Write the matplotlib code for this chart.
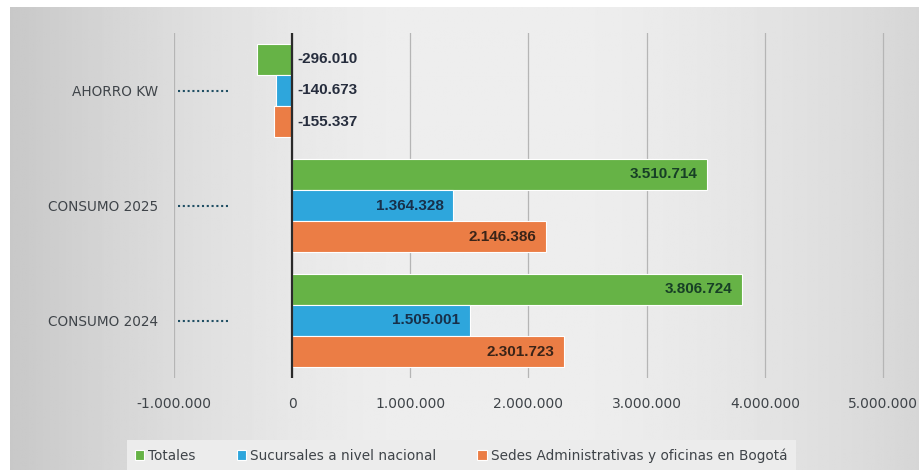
import numpy as np
import matplotlib
matplotlib.use("Agg")
import matplotlib.pyplot as plt
import matplotlib.transforms as mtransforms
from matplotlib.ticker import FuncFormatter

# Datos del grafico
categorias = ['AHORRO KW', 'CONSUMO 2025', 'CONSUMO 2024']
series = ['Totales', 'Sucursales a nivel nacional', 'Sedes Administrativas y oficinas en Bogotá']
totales = [-296010, 3510714, 3806724]
sucursales = [-140673, 1364328, 1505001]
sedes = [-155337, 2146386, 2301723]
x_ticks = [-1000000, 0, 1000000, 2000000, 3000000, 4000000, 5000000]

colores = ['#66b346', '#2ea6dc', '#eb7d45']
colores_txt = ['#173f26', '#17304a', '#3a2418']

plt.rcParams['font.family'] = ['DejaVu Sans']

fig = plt.figure(figsize=(9.19, 4.70), dpi=100)
fig.patch.set_facecolor('white')

# fondo gris degradado
bg = fig.add_axes([10 / 919, 0, 1 - 10 / 919, 1 - 7 / 470], zorder=-5)
xs = np.linspace(0, 1, 400)
grad = 238 - 38 * (1 - np.clip(xs / 0.45, 0, 1)) ** 1.5 - 24 * np.clip((xs - 0.6) / 0.4, 0, 1) ** 1.5
grad = np.tile(grad / 255.0, (10, 1))
bg.imshow(grad, cmap='gray', vmin=0, vmax=1, aspect='auto', extent=[0, 1, 0, 1])
bg.axis('off')

ax = fig.add_axes([174 / 919, 1 - 378 / 470, 711 / 919, 345 / 470])
ax.set_facecolor('none')

y = np.arange(len(categorias))
h = 0.27
datos = [totales, sucursales, sedes]
for i, (nombre, vals) in enumerate(zip(series, datos)):
    pos = y + (i - 1) * h
    bars = ax.barh(pos, vals, height=h, color=colores[i], edgecolor='white',
                   linewidth=0.8, label=nombre, zorder=3)
    for b, v in zip(bars, vals):
        txt = f'{v:,}'.replace(',', '.')
        if v < 0:
            ax.annotate(txt, (0, b.get_y() + b.get_height() / 2), xytext=(3.5, 0),
                        textcoords='offset points', ha='left', va='center',
                        fontsize=11, fontweight='bold', color='#262d3d',
                        family=['Liberation Sans', 'DejaVu Sans'], zorder=5)
        else:
            ax.annotate(txt, (v, b.get_y() + b.get_height() / 2), xytext=(-7, 0),
                        textcoords='offset points', ha='right', va='center',
                        fontsize=11, fontweight='bold', color=colores_txt[i],
                        family=['Liberation Sans', 'DejaVu Sans'], zorder=5)

ax.set_xlim(-1000000, 5017000)
ax.set_ylim(2.5, -0.5)
ax.set_xticks(x_ticks)
ax.xaxis.set_major_formatter(FuncFormatter(lambda v, p: f'{int(v):,}'.replace(',', '.')))
ax.set_yticks(y)
ax.set_yticklabels(categorias)
ax.tick_params(axis='both', length=0, labelcolor='#3f4449')
ax.tick_params(axis='x', labelsize=10, pad=13.5)
ax.tick_params(axis='y', labelsize=9.8, pad=11.5)
for s in ax.spines.values():
    s.set_visible(False)
ax.grid(axis='x', color='#b5b5b5', linewidth=0.9, zorder=0)
ax.axvline(0, color='#2a2a2a', linewidth=1.6, zorder=4)

# lineas punteadas junto a las categorias
trans = mtransforms.blended_transform_factory(ax.transAxes, ax.transData)
for yy in y:
    ax.plot([0.006, 0.076], [yy, yy], transform=trans, color='#1f4e63',
            linestyle=(0, (1, 1.3)), linewidth=1.5, zorder=4)

leg = fig.legend(loc='lower center', bbox_to_anchor=(0.5017, -0.017), ncol=3,
                 fontsize=9.8, frameon=True, fancybox=False, handlelength=0.7,
                 handleheight=0.7, handletextpad=0.3, columnspacing=3.0,
                 borderpad=0.6, labelcolor='#3f4449')
leg.get_frame().set_facecolor('#ececec')
leg.get_frame().set_edgecolor('none')
leg.get_frame().set_alpha(1)

fig.savefig('out.png', dpi=100)
